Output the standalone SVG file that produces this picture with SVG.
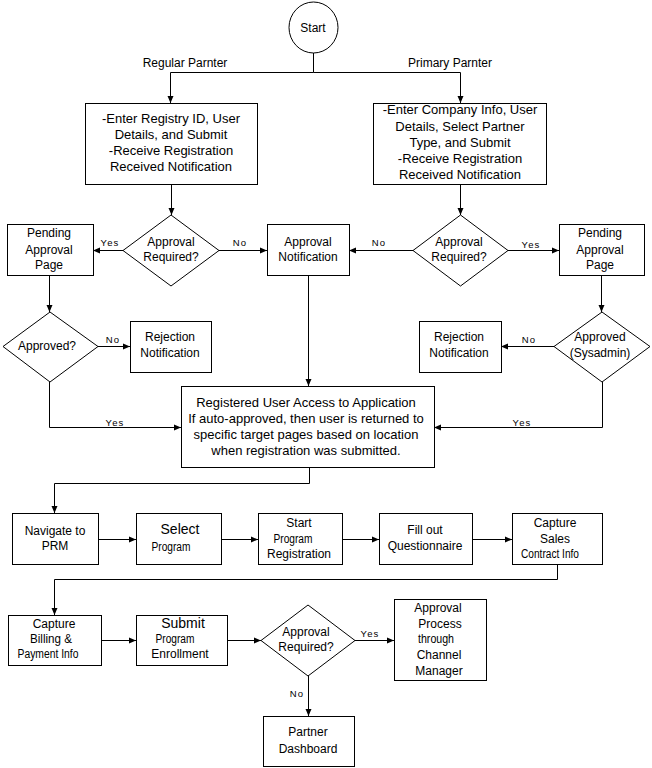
<svg xmlns="http://www.w3.org/2000/svg" width="652" height="768" viewBox="0 0 652 768">
<style>
.n{fill:#fff;stroke:#000;stroke-width:1}
.t{font-family:"Liberation Sans",Arial,sans-serif;font-size:12px;fill:#000;text-anchor:middle}
.m{font-size:13px}
.b{font-size:14px}
.s{font-family:"Liberation Sans",Arial,sans-serif;font-size:9.5px;fill:#000;text-anchor:middle;letter-spacing:1.1px}
.c{fill:none;stroke:#000;stroke-width:1}
</style>
<defs>
<marker id="a" markerUnits="userSpaceOnUse" markerWidth="8" markerHeight="7" refX="7" refY="3.5" orient="auto">
<path d="M0,0.5 L7,3.5 L0,6.5 z" fill="#000"/>
</marker>
</defs>
<rect width="652" height="768" fill="#fff"/>
<g id="connectors">
<path class="c" d="M313.5,53 V72.5 H170.5 V103" marker-end="url(#a)"/>
<path class="c" d="M313.5,72.5 H460.5 V103" marker-end="url(#a)"/>
<path class="c" d="M171.5,184 V215" marker-end="url(#a)"/>
<path class="c" d="M460.5,184 V215" marker-end="url(#a)"/>
<path class="c" d="M123,250.5 H93" marker-end="url(#a)"/>
<path class="c" d="M219,250.5 H267" marker-end="url(#a)"/>
<path class="c" d="M413,250.5 H349" marker-end="url(#a)"/>
<path class="c" d="M508,250.5 H559" marker-end="url(#a)"/>
<path class="c" d="M49.5,275 V312" marker-end="url(#a)"/>
<path class="c" d="M601.5,275 V312" marker-end="url(#a)"/>
<path class="c" d="M98,346.5 H130" marker-end="url(#a)"/>
<path class="c" d="M554,346.5 H501" marker-end="url(#a)"/>
<path class="c" d="M308.5,275 V386" marker-end="url(#a)"/>
<path class="c" d="M49.5,382 V427.5 H181" marker-end="url(#a)"/>
<path class="c" d="M602.5,382 V427.5 H434" marker-end="url(#a)"/>
<path class="c" d="M309.5,467 V483.5 H54.5 V513" marker-end="url(#a)"/>
<path class="c" d="M98,539.5 H136" marker-end="url(#a)"/>
<path class="c" d="M221,539.5 H258" marker-end="url(#a)"/>
<path class="c" d="M342,539.5 H379" marker-end="url(#a)"/>
<path class="c" d="M472,539.5 H512" marker-end="url(#a)"/>
<path class="c" d="M557.5,564 V579.5 H54.5 V615" marker-end="url(#a)"/>
<path class="c" d="M101,640.5 H136" marker-end="url(#a)"/>
<path class="c" d="M227,640.5 H261" marker-end="url(#a)"/>
<path class="c" d="M355,640.5 H394" marker-end="url(#a)"/>
<path class="c" d="M308.5,675 V716" marker-end="url(#a)"/>
<text class="t" x="185" y="67">Regular Parnter</text>
<text class="t" x="450" y="67">Primary Parnter</text>
<text class="s" x="110" y="246">Yes</text>
<text class="s" x="240" y="246">No</text>
<text class="s" x="379" y="246">No</text>
<text class="s" x="531" y="248">Yes</text>
<text class="s" x="113" y="343">No</text>
<text class="s" x="529" y="343">No</text>
<text class="s" x="115" y="426">Yes</text>
<text class="s" x="522" y="426">Yes</text>
<text class="s" x="370" y="637">Yes</text>
<text class="s" x="297" y="697">No</text>
</g>
<g id="start">
<ellipse class="n" cx="313.5" cy="27.5" rx="24.5" ry="25.5"/>
<text class="t" x="313" y="32">Start</text>
</g>
<g id="regular-entry">
<rect class="n" x="85.5" y="103.5" width="172" height="81"/>
<text class="t m" x="171" y="123">-Enter Registry ID, User</text>
<text class="t m" x="171" y="139">Details, and Submit</text>
<text class="t m" x="171" y="155">-Receive Registration</text>
<text class="t m" x="171" y="171">Received Notification</text>
</g>
<g id="primary-entry">
<rect class="n" x="373.5" y="103.5" width="173" height="81"/>
<text class="t m" x="460" y="114">-Enter Company Info, User</text>
<text class="t m" x="460" y="131">Details, Select Partner</text>
<text class="t m" x="460" y="147">Type, and Submit</text>
<text class="t m" x="460" y="163">-Receive Registration</text>
<text class="t m" x="460" y="179">Received Notification</text>
</g>
<g id="approval-required-left">
<polygon class="n" points="171,215 219,250.5 171,286 123,250.5"/>
<text class="t" x="171" y="246">Approval</text>
<text class="t" x="171" y="261">Required?</text>
</g>
<g id="approval-required-right">
<polygon class="n" points="460.5,215 508,250.5 460.5,286 413,250.5"/>
<text class="t" x="459" y="246">Approval</text>
<text class="t" x="459" y="261">Required?</text>
</g>
<g id="pending-left">
<rect class="n" x="7.5" y="224.5" width="86" height="51"/>
<text class="t" x="49" y="237">Pending</text>
<text class="t" x="49" y="254">Approval</text>
<text class="t" x="49" y="269">Page</text>
</g>
<g id="approval-notification">
<rect class="n" x="267.5" y="224.5" width="82" height="51"/>
<text class="t" x="308" y="246">Approval</text>
<text class="t" x="308" y="261">Notification</text>
</g>
<g id="pending-right">
<rect class="n" x="559.5" y="224.5" width="85" height="51"/>
<text class="t" x="600" y="237">Pending</text>
<text class="t" x="600" y="254">Approval</text>
<text class="t" x="600" y="269">Page</text>
</g>
<g id="approved-left">
<polygon class="n" points="50,312 98,346.5 50,382 3,346.5"/>
<text class="t" x="47" y="350">Approved?</text>
</g>
<g id="rejection-left">
<rect class="n" x="130.5" y="321.5" width="81" height="51"/>
<text class="t" x="170" y="341">Rejection</text>
<text class="t" x="170" y="357">Notification</text>
</g>
<g id="rejection-right">
<rect class="n" x="419.5" y="321.5" width="82" height="51"/>
<text class="t" x="459" y="341">Rejection</text>
<text class="t" x="459" y="357">Notification</text>
</g>
<g id="approved-sysadmin">
<polygon class="n" points="602,312 650,346.5 602,382 554,346.5"/>
<text class="t" x="600" y="341">Approved</text>
<text class="t" x="600" y="357">(Sysadmin)</text>
</g>
<g id="registered-access">
<rect class="n" x="181.5" y="386.5" width="253" height="81"/>
<text class="t m" x="306" y="407">Registered User Access to Application</text>
<text class="t m" x="306" y="423">If auto-approved, then user is returned to</text>
<text class="t m" x="306" y="439">specific target pages based on location</text>
<text class="t m" x="306" y="455">when registration was submitted.</text>
</g>
<g id="navigate-prm">
<rect class="n" x="12.5" y="513.5" width="86" height="51"/>
<text class="t" x="55" y="535">Navigate to</text>
<text class="t" x="55" y="550">PRM</text>
</g>
<g id="select-program">
<rect class="n" x="136.5" y="513.5" width="85" height="51"/>
<text class="t b" x="180" y="534">Select</text>
<text class="t" x="171" y="551" textLength="39" lengthAdjust="spacingAndGlyphs">Program</text>
</g>
<g id="start-registration">
<rect class="n" x="258.5" y="513.5" width="84" height="51"/>
<text class="t" x="299" y="527">Start</text>
<text class="t" x="293" y="543" textLength="39" lengthAdjust="spacingAndGlyphs">Program</text>
<text class="t" x="299" y="558">Registration</text>
</g>
<g id="questionnaire">
<rect class="n" x="379.5" y="513.5" width="93" height="51"/>
<text class="t" x="425" y="534">Fill out</text>
<text class="t" x="425" y="550">Questionnaire</text>
</g>
<g id="capture-sales">
<rect class="n" x="512.5" y="513.5" width="90" height="51"/>
<text class="t" x="555" y="527">Capture</text>
<text class="t" x="555" y="543">Sales</text>
<text class="t" x="550" y="558" textLength="58" lengthAdjust="spacingAndGlyphs">Contract Info</text>
</g>
<g id="capture-billing">
<rect class="n" x="8.5" y="615.5" width="93" height="50"/>
<text class="t" x="54" y="628">Capture</text>
<text class="t" x="51" y="643" textLength="42" lengthAdjust="spacingAndGlyphs">Billing &amp;</text>
<text class="t" x="48" y="658" textLength="61" lengthAdjust="spacingAndGlyphs">Payment Info</text>
</g>
<g id="submit-enrollment">
<rect class="n" x="136.5" y="615.5" width="91" height="50"/>
<text class="t b" x="183" y="628">Submit</text>
<text class="t" x="175" y="643" textLength="39" lengthAdjust="spacingAndGlyphs">Program</text>
<text class="t" x="180" y="658">Enrollment</text>
</g>
<g id="approval-required-bottom">
<polygon class="n" points="308,605 355,640.5 308,676 261,640.5"/>
<text class="t" x="306" y="636">Approval</text>
<text class="t" x="306" y="651">Required?</text>
</g>
<g id="channel-manager">
<rect class="n" x="394.5" y="599.5" width="92" height="81"/>
<text class="t" x="438" y="612">Approval</text>
<text class="t" x="440" y="628">Process</text>
<text class="t" x="436" y="643" textLength="36" lengthAdjust="spacingAndGlyphs">through</text>
<text class="t" x="439" y="659">Channel</text>
<text class="t" x="439" y="675">Manager</text>
</g>
<g id="partner-dashboard">
<rect class="n" x="263.5" y="716.5" width="91" height="50"/>
<text class="t" x="308" y="736">Partner</text>
<text class="t" x="308" y="753">Dashboard</text>
</g>
</svg>
